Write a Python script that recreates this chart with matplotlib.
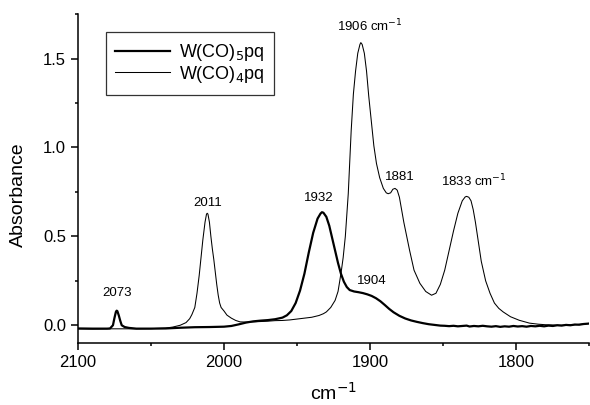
import matplotlib
matplotlib.use("Agg")
import matplotlib.pyplot as plt
from matplotlib.ticker import MultipleLocator

plt.rcParams['font.family'] = ['Liberation Sans', 'DejaVu Sans']

# W(CO)5pq (thick line)
wn5 = [2100, 2090, 2080, 2078, 2076, 2075, 2074, 2073.5, 2073, 2072, 2071, 2070, 2068, 2065,
       2060, 2050, 2040, 2030, 2020, 2010, 2000, 1995, 1990, 1985, 1980, 1975, 1970, 1965,
       1960, 1957, 1954, 1951, 1948, 1945, 1942, 1939, 1936, 1934, 1933, 1932, 1930, 1928,
       1926, 1924, 1922, 1920, 1918, 1916, 1914, 1911, 1908, 1905, 1902, 1899, 1896, 1893,
       1890, 1887, 1884, 1880, 1876, 1872, 1868, 1864, 1860, 1856, 1852, 1849, 1846, 1843,
       1840, 1837, 1834, 1832, 1829, 1826, 1823, 1820, 1817, 1814, 1811, 1808, 1805, 1802,
       1799, 1796, 1793, 1790, 1787, 1784, 1781, 1778, 1775, 1772, 1769, 1766, 1763, 1760,
       1757, 1754, 1751, 1750]
abs5 = [-0.018, -0.019, -0.019, -0.018, 0.0, 0.04, 0.075, 0.082, 0.08, 0.055, 0.025, 0.0, -0.01, -0.015,
        -0.019, -0.019, -0.018, -0.014, -0.011, -0.010, -0.008, -0.004, 0.005, 0.015, 0.022, 0.026, 0.029, 0.034,
        0.043, 0.056, 0.08, 0.125, 0.195, 0.29, 0.41, 0.52, 0.60, 0.628, 0.636, 0.633, 0.61, 0.56,
        0.49, 0.42, 0.35, 0.29, 0.245, 0.215, 0.198, 0.19, 0.186, 0.181, 0.174, 0.165, 0.152, 0.135,
        0.114, 0.092, 0.073, 0.053, 0.038, 0.027, 0.019, 0.012, 0.006, 0.002, -0.002, -0.003, -0.005, -0.003,
        -0.006, -0.004, -0.002, -0.007, -0.004, -0.006, -0.003, -0.006, -0.008, -0.005, -0.009, -0.006, -0.008, -0.004,
        -0.007, -0.005, -0.008, -0.004, -0.006, -0.003, -0.006, -0.002, -0.004, 0.0, -0.002, 0.002, 0.0, 0.004,
        0.003, 0.007, 0.009, 0.01]

# W(CO)4pq (thin line)
wn4 = [2100, 2090, 2080, 2070, 2060, 2050, 2040, 2035, 2030, 2026, 2023.5, 2022, 2020, 2018.5,
       2017, 2016, 2014.5, 2013, 2012, 2011.5, 2011, 2010, 2009, 2008, 2007, 2006, 2005, 2004,
       2003, 2002, 2000, 1998, 1995, 1992, 1989, 1985, 1980, 1975, 1970, 1965, 1960, 1955,
       1950, 1945, 1940, 1935, 1932, 1930, 1927, 1924, 1922, 1920.8, 1919.5, 1918.5, 1917, 1915,
       1913, 1911.5, 1910, 1908.5, 1907, 1906.4, 1905.5, 1904, 1902.5, 1901, 1899, 1897.5, 1895.7,
       1893.5, 1891, 1889, 1887.7, 1886, 1884.5, 1883, 1881.5, 1880, 1878.5, 1877, 1875, 1873,
       1870, 1866, 1862, 1858, 1855, 1852, 1849, 1846, 1843, 1840, 1837, 1835, 1834, 1832.5,
       1831, 1829.5, 1828, 1826, 1824, 1821, 1818, 1815, 1812, 1809, 1804, 1798, 1791, 1785,
       1780, 1770, 1760, 1750]
abs4 = [-0.020, -0.021, -0.020, -0.020, -0.020, -0.019, -0.016, -0.010, 0.0, 0.015, 0.037, 0.06, 0.10, 0.18,
        0.28, 0.36, 0.48, 0.58, 0.625, 0.63, 0.625, 0.58, 0.50, 0.43, 0.37, 0.30, 0.23, 0.17,
        0.125, 0.10, 0.08, 0.057, 0.04, 0.027, 0.019, 0.018, 0.019, 0.021, 0.023, 0.026, 0.027, 0.030,
        0.035, 0.040, 0.045, 0.055, 0.065, 0.075, 0.10, 0.14, 0.19, 0.25, 0.32, 0.38, 0.50, 0.74,
        1.095, 1.30, 1.43, 1.53, 1.58, 1.59, 1.58, 1.53, 1.43, 1.29, 1.13, 1.01, 0.91,
        0.83, 0.77, 0.745, 0.74, 0.745, 0.765, 0.77, 0.76, 0.72, 0.65, 0.58, 0.50, 0.42,
        0.31, 0.236, 0.19, 0.169, 0.18, 0.23, 0.31, 0.42, 0.53, 0.63, 0.70, 0.722, 0.725, 0.72,
        0.70, 0.65, 0.58, 0.47, 0.36, 0.25, 0.18, 0.125, 0.095, 0.075, 0.048, 0.028, 0.012, 0.006,
        0.003, 0.0, 0.003, 0.01]

labels = ["W(CO)$_5$pq", "W(CO)$_4$pq"]
peak_labels = ["2073", "2011", "1932", "1904", "1881"]
peak_pos = [(2073.5, 0.18), (2011, 0.69), (1935.5, 0.717), (1899, 0.247), (1880, 0.833)]
unit_labels = ["1906 cm$^{-1}$", "1833 cm$^{-1}$"]
unit_pos = [(1923, 1.685), (1851.3, 0.81)]

fig = plt.figure(figsize=(5.9, 4.05), dpi=100)
ax = fig.add_axes([0.132, 0.153, 0.867, 0.812])

ax.plot(wn5, abs5, color='black', lw=1.6, label=labels[0])
ax.plot(wn4, abs4, color='black', lw=0.75, label=labels[1])

ax.set_xlim(2100, 1750)
ax.set_ylim(-0.1, 1.75)
ax.xaxis.set_major_locator(MultipleLocator(100))
ax.xaxis.set_minor_locator(MultipleLocator(50))
ax.yaxis.set_major_locator(MultipleLocator(0.5))
ax.yaxis.set_minor_locator(MultipleLocator(0.25))
ax.spines['top'].set_visible(False)
ax.spines['right'].set_visible(False)
for s in ('left', 'bottom'):
    ax.spines[s].set_linewidth(1.1)
ax.tick_params(which='major', direction='out', length=5, width=1.1, labelsize=12)
ax.tick_params(which='minor', direction='out', length=2.5, width=1.1)

ax.set_xlabel("cm$^{-1}$", fontsize=14, labelpad=9)
ax.set_ylabel("Absorbance", fontsize=14, labelpad=8)
ax.yaxis.set_label_coords(-0.1, 0.45)

for t, (x, y) in zip(peak_labels, peak_pos):
    ax.text(x, y, t, ha='center', va='center', fontsize=9.5)
for t, (x, y) in zip(unit_labels, unit_pos):
    ax.text(x, y, t, ha='left', va='center', fontsize=9.5)

leg = ax.legend(loc='upper left', bbox_to_anchor=(0.054, 0.946), borderaxespad=0,
                fontsize=13, frameon=True, fancybox=False, edgecolor='black',
                handlelength=3.0, handletextpad=0.5, labelspacing=0.05, borderpad=0.55)
leg.get_frame().set_linewidth(0.9)

fig.savefig("out.png", dpi=100)
